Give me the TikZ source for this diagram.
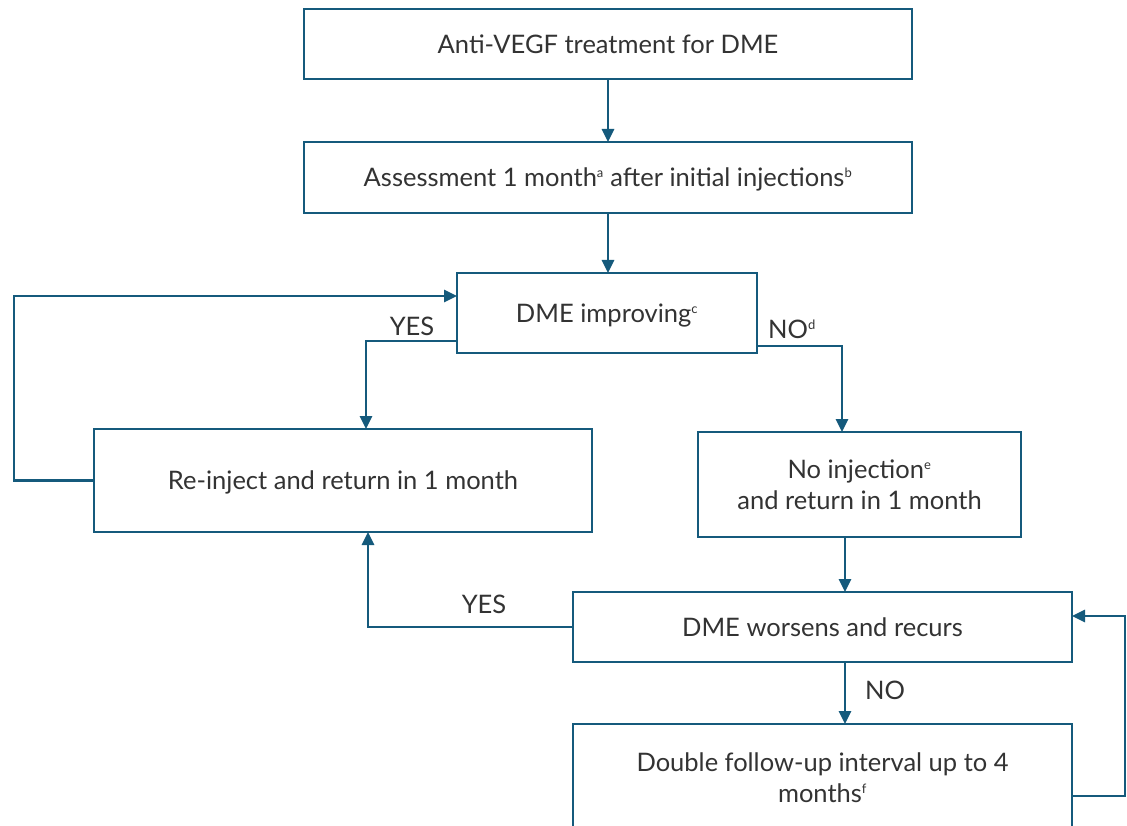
\documentclass[tikz,border=0pt]{standalone}
\usepackage{fontspec}
\setmainfont{Lato}
\usetikzlibrary{arrows.meta,calc}
\definecolor{lc}{HTML}{155A7C}
\definecolor{tc}{HTML}{333333}
\tikzset{
  box/.style={draw=lc,line width=2.7pt,inner sep=0pt,outer sep=0pt,align=center,text=tc,font=\fontsize{25.5}{31}\selectfont},
  onebox/.style={box,text depth=0pt},
  arr/.style={draw=lc,line width=2.7pt,-{Triangle[length=13pt,width=12pt]}},
  lbl/.style={text=tc,font=\fontsize{25.5}{30}\selectfont,inner sep=0pt}
}
\newcommand{\sups}[1]{\textsuperscript{\fontsize{13}{13}\selectfont #1}}
\begin{document}
\begin{tikzpicture}[x=1pt,y=-1pt]
\useasboundingbox (0,0) rectangle (1127,826);
\clip (0,0) rectangle (1127,826);
\fill[white] (0,0) rectangle (1127,826);
\node[onebox,minimum width=608pt,minimum height=70pt] (b1) at (608,44) {Anti-VEGF treatment for DME};
\node[onebox,minimum width=608pt,minimum height=71pt] (b2) at (608,177.5) {Assessment 1 month\sups{a} after initial injections\sups{b}};
\node[onebox,minimum width=300pt,minimum height=80pt] (b3) at (607,313) {DME improving\sups{c}};
\node[onebox,minimum width=498pt,minimum height=103pt] (b4) at (343,480.5) {Re-inject and return in 1 month};
\node[box,minimum width=323pt,minimum height=105pt] (b5) at (859.5,484.5) {No injection\sups{e}\\and return in 1 month};
\node[box,minimum width=499pt,minimum height=108pt,anchor=north] (b7) at (822.5,724) {Double follow-up interval up to 4\\months\sups{f}};
\node[onebox,minimum width=499pt,minimum height=70pt] (b6) at (822.5,627) {DME worsens and recurs};
\draw[arr] (b1.south) -- (b2.north);
\draw[arr] (b2.south) -- (b2.south |- b3.north);
\draw[arr] (b4.west) -- ++(-80,0) |- ($(b3.north west)+(0,23)$);
\draw[arr] ($(b3.south west)+(0,-12)$) -| ($(b4.north west)+(272,0)$);
\draw[arr] ($(b3.south east)+(0,-7)$) -| ($(b5.north west)+(144,0)$);
\draw[arr] (b5.south -| {$(b6.north west)+(272,0)$}) -- ($(b6.north west)+(272,0)$);
\draw[arr] (b6.west) -| ($(b4.south west)+(274,0)$);
\draw[arr] ($(b6.south west)+(272,0)$) -- ($(b7.north west)+(272,0)$);
\draw[arr] ($(b7.north east)+(0,72)$) -- ++(53,0) |- ($(b6.north east)+(0,24)$);
\node[lbl] (l1) at (412,326) {YES};
\node[lbl,anchor=west] (l2) at (768,329) {NO\sups{d}};
\node[lbl] (l3) at (484,604) {YES};
\node[lbl] (l4) at (885,690) {NO};
\end{tikzpicture}
\end{document}
